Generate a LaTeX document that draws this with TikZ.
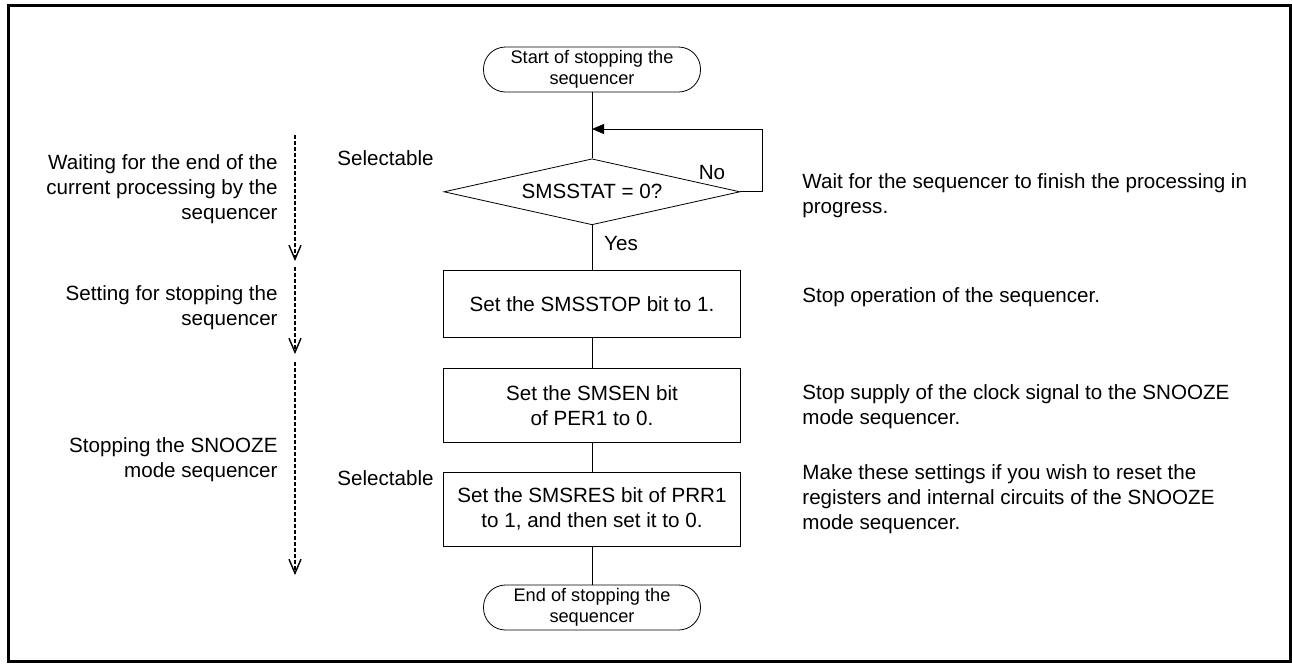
\documentclass[tikz,border=0pt]{standalone}
\usepackage{fontspec}
\setmainfont{Liberation Sans}
\usetikzlibrary{shapes,arrows.meta,positioning}

\begin{document}
\begin{tikzpicture}[
    x=0.5pt, y=-0.5pt,
    every node/.style={font=\fontsize{10.3}{12.5}\selectfont},
    term/.style={rectangle, rounded corners=11pt, draw, thin,
        minimum width=108.5pt, minimum height=22.5pt, inner sep=0pt,
        align=center, font=\fontsize{9.1}{10.5}\selectfont},
    decision/.style={diamond, draw, thin, aspect=4.5, inner sep=0pt,
        minimum width=148pt, minimum height=33pt},
    procbox/.style={rectangle, draw, thin, align=center,
        minimum width=148.5pt, inner sep=0pt},
    note/.style={anchor=west, align=left, inner sep=0pt},
    phase/.style={anchor=east, align=right, inner sep=0pt},
    line/.style={thin},
    loop/.style={-{Triangle[length=6pt, width=5pt]}, thin},
    stage/.style={-{Straight Barb[length=7pt, width=6pt]}, line width=0.7pt,
        dash pattern=on 2pt off 1pt}
]
    \useasboundingbox (0,0) rectangle (1292,665);
    \draw[line width=1.5pt] (8,5) rectangle (1290,661);

    % Flow
    \node[term] (start) at (592,69.5) {Start of stopping the\\sequencer};
    \node[decision, below=33pt of start] (chk) {SMSSTAT = 0?};
    \node[procbox, minimum height=33.5pt, below=22.5pt of chk] (stop) {Set the SMSSTOP bit to 1.};
    \node[procbox, minimum height=37pt, below=15pt of stop] (clk) {Set the SMSEN bit\\of PER1 to 0.};
    \node[procbox, minimum height=37pt, below=14.5pt of clk] (rst) {Set the SMSRES bit of PRR1\\to 1, and then set it to 0.};
    \node[term, below=19pt of rst] (fin) {End of stopping the\\sequencer};

    \coordinate (back) at (592,129);
    \coordinate (loopR) at (762,129);

    \draw[line] (start) -- (chk);
    \draw[loop] (chk.east) -| (loopR) -- (back);
    \draw[line] (chk) -- (stop);
    \draw[line] (stop) -- (clk);
    \draw[line] (clk) -- (rst);
    \draw[line] (rst) -- (fin);

    \node[inner sep=0pt] (no) at (712,173) {No};
    \node[inner sep=0pt] (yes) at (621,244) {Yes};
    \node[inner sep=0pt] (sel1) at (385.5,158) {Selectable};
    \node[inner sep=0pt] (sel2) at (385.5,478) {Selectable};

    % Notes on the right
    \node[note] (n1) at (802,195.5) {Wait for the sequencer to finish the processing in\\progress.};
    \node[note] (n2) at (802,297) {Stop operation of the sequencer.};
    \node[note] (n3) at (802,407) {Stop supply of the clock signal to the SNOOZE\\mode sequencer.};
    \node[note] (n4) at (802,499) {Make these settings if you wish to reset the\\registers and internal circuits of the SNOOZE\\mode sequencer.};

    % Phases on the left
    \node[phase] (p1) at (278,189.5) {Waiting for the end of the\\current processing by the\\sequencer};
    \node[phase] (p2) at (278,307.5) {Setting for stopping the\\sequencer};
    \node[phase] (p3) at (278,459.5) {Stopping the SNOOZE\\mode sequencer};

    \coordinate (s1a) at (295,135);
    \coordinate (s1b) at (295,261);
    \coordinate (s2a) at (295,267);
    \coordinate (s2b) at (295,354);
    \coordinate (s3a) at (295,362);
    \coordinate (s3b) at (295,575);
    \draw[stage] (s1a) -- (s1b);
    \draw[stage] (s2a) -- (s2b);
    \draw[stage] (s3a) -- (s3b);
\end{tikzpicture}
\end{document}
